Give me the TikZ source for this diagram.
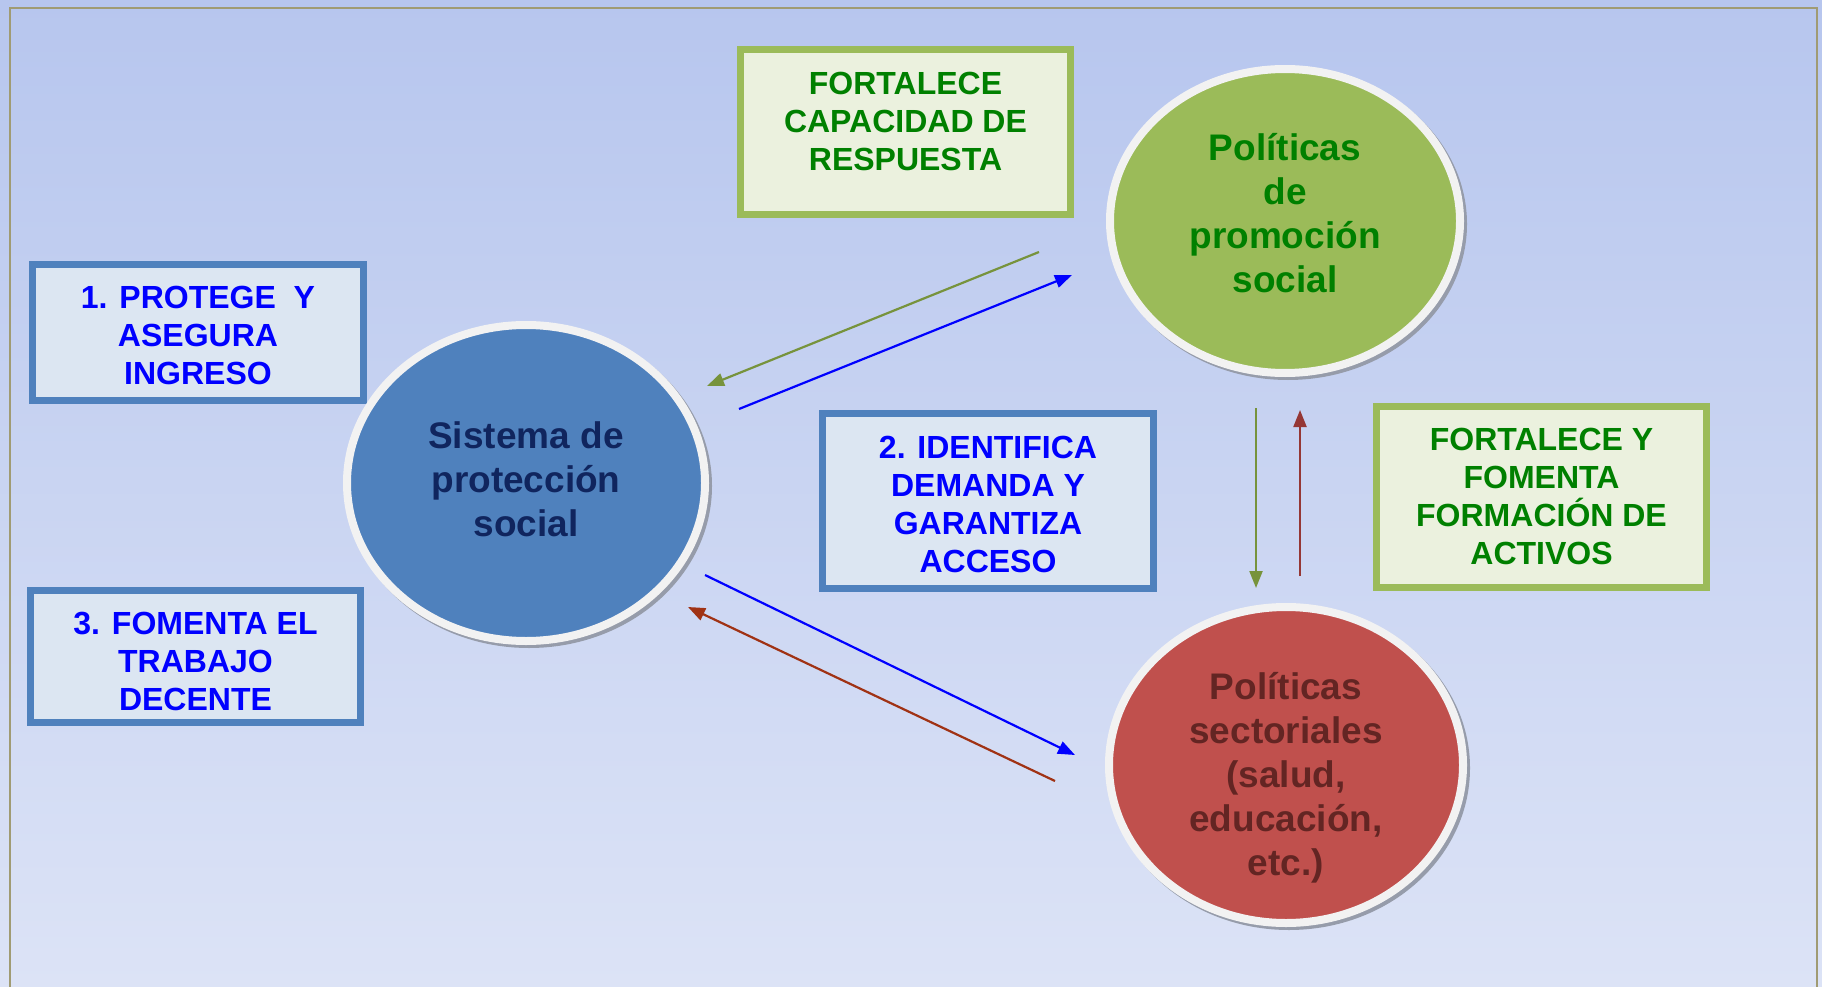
\documentclass[tikz,border=0pt]{standalone}
\usepackage{fontspec}
\setmainfont{Liberation Sans}
\usetikzlibrary{arrows.meta,shapes.geometric,calc}
\definecolor{bgtop}{RGB}{183,198,238}
\definecolor{bgbot}{RGB}{220,227,246}
\definecolor{framecol}{RGB}{160,155,115}
\definecolor{bborder}{RGB}{79,129,189}
\definecolor{bfill}{RGB}{220,230,242}
\definecolor{gborder}{RGB}{155,187,89}
\definecolor{gfill}{RGB}{235,241,222}
\definecolor{gtext}{RGB}{0,128,0}
\definecolor{btext}{RGB}{0,0,255}
\definecolor{navytext}{RGB}{16,37,94}
\definecolor{rtext}{RGB}{99,37,35}
\definecolor{cblue}{RGB}{79,129,189}
\definecolor{cgreen}{RGB}{155,187,89}
\definecolor{cred}{RGB}{192,80,77}
\definecolor{ringcol}{RGB}{242,242,242}
\definecolor{shadcol}{RGB}{150,156,170}
\definecolor{agreen}{RGB}{119,147,60}
\definecolor{ared}{RGB}{160,50,20}
\definecolor{avred}{RGB}{149,55,53}
\begin{document}
\begin{tikzpicture}[x=1pt,y=-1pt,
  boxbase/.style={rectangle, line width=7pt, inner sep=0pt},
  bluebox/.style={boxbase, draw=bborder, fill=bfill},
  greenbox/.style={boxbase, draw=gborder, fill=gfill},
  boxtext/.style={align=center, inner sep=0pt, font=\fontsize{32}{38}\selectfont\bfseries},
  circ/.style={ellipse, draw=ringcol, line width=8pt, inner sep=0pt},
  shadowc/.style={ellipse, fill=shadcol, inner sep=0pt},
  ctext/.style={align=center, inner sep=0pt, font=\fontsize{37}{44}\selectfont\bfseries},
  arr/.style={line width=2.2pt, -{Triangle[length=17pt,width=13pt]}}
]
\useasboundingbox (0,0) rectangle (1822,987);
\shade[top color=bgtop, bottom color=bgbot] (0,0) rectangle (1822,987);
\draw[framecol, line width=2pt] (10,995) -- (10,8) -- (1817,8) -- (1817,995);

% boxes
\node[bluebox, minimum width=331pt, minimum height=136pt] (b1) at (198,332.5) {};
\node[boxtext, text=btext] (b1text) at (198,335.5) {1. PROTEGE\ \ Y\\ASEGURA\\INGRESO};
\node[bluebox, minimum width=330pt, minimum height=132pt] (b3) at (195.5,656.5) {};
\node[boxtext, text=btext] (b3text) at (195.5,661) {3. FOMENTA EL\\TRABAJO\\DECENTE};
\node[bluebox, minimum width=331pt, minimum height=175pt] (b2) at (988,501) {};
\node[boxtext, text=btext] (b2text) at (988,504) {2. IDENTIFICA\\DEMANDA Y\\GARANTIZA\\ACCESO};
\node[greenbox, minimum width=330pt, minimum height=165pt] (gtop) at (905.5,132) {};
\node[boxtext, text=gtext] (gtoptext) at (905.5,121.5) {FORTALECE\\CAPACIDAD DE\\RESPUESTA};
\node[greenbox, minimum width=330pt, minimum height=181pt] (gright) at (1541.5,497) {};
\node[boxtext, text=gtext] (grighttext) at (1541.5,496) {FORTALECE Y\\FOMENTA\\FORMACIÓN DE\\ACTIVOS};

% circles
\node[shadowc, minimum width=366pt, minimum height=324pt] (spsshadow) at (529,486) {};
\node[circ, fill=cblue, minimum width=358pt, minimum height=316pt] (sps) at (526,483) {};
\node[ctext, text=navytext] (spstext) at (526,479) {Sistema de\\protección\\social};

\node[shadowc, minimum width=358pt, minimum height=312pt] (proshadow) at (1288,224) {};
\node[circ, fill=cgreen, minimum width=350pt, minimum height=304pt] (pro) at (1285,221) {};
\node[ctext, text=gtext] (protext) at (1285,213) {Políticas\\de\\promoción\\social};

\node[shadowc, minimum width=362pt, minimum height=324pt] (secshadow) at (1289,768) {};
\node[circ, fill=cred, minimum width=354pt, minimum height=316pt] (sec) at (1286,765) {};
\node[ctext, text=rtext] (sectext) at (1286,778) {Políticas\\sectoriales\\(salud,\\educación,\\etc.)};

% arrow end points
\coordinate (g1s) at (1039,252); \coordinate (g1e) at (707,386);
\coordinate (b1s) at (739,409);  \coordinate (b1e) at (1072,275);
\coordinate (b2s) at (705,575);  \coordinate (b2e) at (1075,755);
\coordinate (r1s) at (1055,781); \coordinate (r1e) at (688,607);
\coordinate (g2s) at (1256,408); \coordinate (g2e) at (1256,588);
\coordinate (r2s) at (1300,576); \coordinate (r2e) at (1300,410);

\draw[arr, agreen] (g1s) -- (g1e);
\draw[arr, blue] (b1s) -- (b1e);
\draw[arr, blue] (b2s) -- (b2e);
\draw[arr, ared] (r1s) -- (r1e);
\draw[arr, agreen] (g2s) -- (g2e);
\draw[arr, avred] (r2s) -- (r2e);
\end{tikzpicture}
\end{document}
